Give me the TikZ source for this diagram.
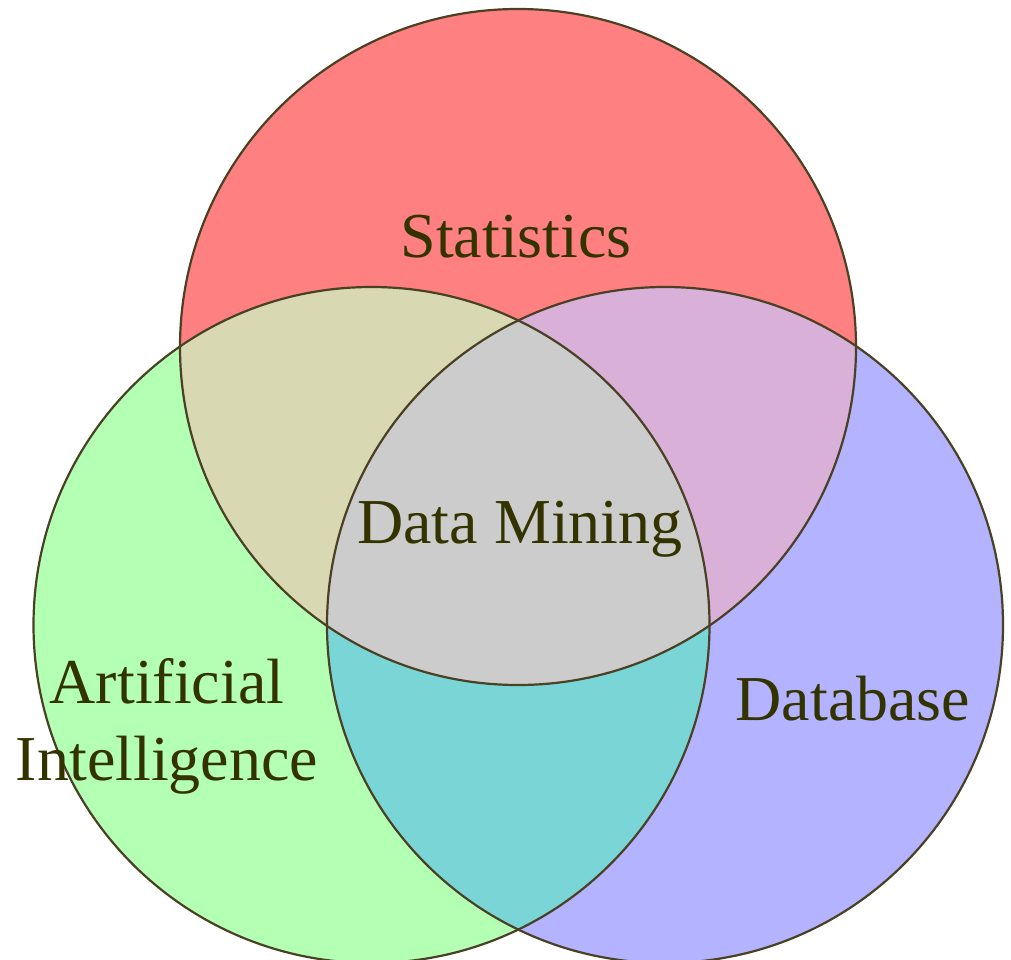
\documentclass[tikz,border=0pt]{standalone}
\usepackage{fontspec}
\setmainfont{Liberation Serif}
\definecolor{cred}{HTML}{FF8080}
\definecolor{cgreen}{HTML}{B3FFB3}
\definecolor{cblue}{HTML}{B3B3FF}
\definecolor{crg}{HTML}{D8D8B2}
\definecolor{crb}{HTML}{D8B0D8}
\definecolor{cgb}{HTML}{7AD6D6}
\definecolor{call}{HTML}{CCCCCC}
\definecolor{cline}{HTML}{4A4024}
\definecolor{ctext}{HTML}{333300}
\begin{document}
\begin{tikzpicture}[x=1pt,y=-1pt,
  outline/.style={draw=cline,line width=2.2pt},
  label/.style={text=ctext,font=\fontsize{64}{77}\selectfont,inner sep=0pt,anchor=base}]
\useasboundingbox (0,0) rectangle (1011,960);
\clip (0,0) rectangle (1011,960);
\coordinate (S) at (518,347);
\coordinate (A) at (371.5,625);
\coordinate (B) at (665,625);
\def\rr{338}
\fill[cred] (S) circle[radius=\rr];
\fill[cgreen] (A) circle[radius=\rr];
\fill[cblue] (B) circle[radius=\rr];
\begin{scope}
  \clip (S) circle[radius=\rr];
  \fill[crg] (A) circle[radius=\rr];
  \fill[crb] (B) circle[radius=\rr];
\end{scope}
\begin{scope}
  \clip (A) circle[radius=\rr];
  \fill[cgb] (B) circle[radius=\rr];
\end{scope}
\begin{scope}
  \clip (S) circle[radius=\rr];
  \clip (A) circle[radius=\rr];
  \fill[call] (B) circle[radius=\rr];
\end{scope}
\draw[outline] (S) circle[radius=\rr];
\draw[outline] (A) circle[radius=\rr];
\draw[outline] (B) circle[radius=\rr];
\node[label] (stat) at (516,257) {Statistics};
\node[label] (dm) at (520,543) {Data Mining};
\node[label,align=center] (ai) at (167,780) {Artificial\\Intelligence};
\node[label] (db) at (853,720) {Database};
\end{tikzpicture}
\end{document}
